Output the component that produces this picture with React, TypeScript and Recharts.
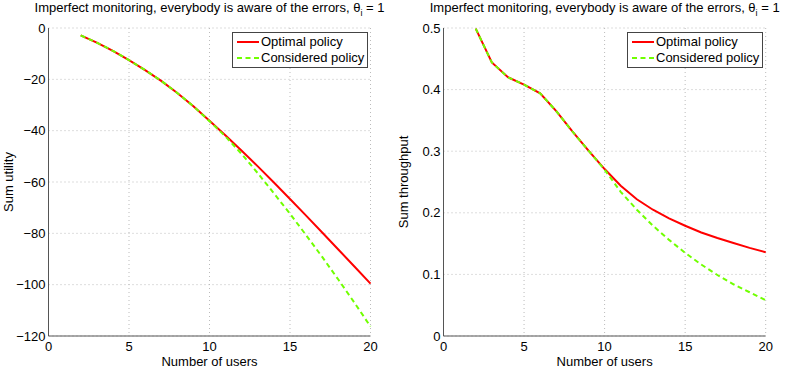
import { LineChart, Line, XAxis, YAxis, CartesianGrid } from "recharts";

const users = [2, 3, 4, 5, 6, 7, 8, 9, 10, 11, 12, 13, 14, 15, 16, 17, 18, 19, 20];

const utilityOptimal = [
  -2.9, -5.7, -8.9, -12.5, -16.4, -20.6, -25.3, -30.5, -36.1, -41.9, -47.8, -53.9, -60.2, -66.6,
  -73.1, -79.7, -86.3, -92.9, -99.6,
];
const utilityConsidered = [
  -2.9, -5.7, -8.9, -12.5, -16.4, -20.6, -25.3, -30.5, -36.3, -42.3, -49.1, -56.6, -64.4, -72.4,
  -80.7, -89.2, -98.0, -107.0, -116.3,
];

const throughputOptimal = [
  0.499, 0.444, 0.42, 0.408, 0.394, 0.365, 0.332, 0.301, 0.271, 0.244, 0.222, 0.205, 0.191, 0.179,
  0.168, 0.159, 0.151, 0.143, 0.136,
];
const throughputConsidered = [
  0.499, 0.444, 0.42, 0.408, 0.394, 0.365, 0.332, 0.301, 0.27, 0.234, 0.205, 0.179, 0.156, 0.135,
  0.116, 0.099, 0.084, 0.071, 0.058,
];

const xTicks = [0, 5, 10, 15, 20];
const utilityTicks = [-120, -100, -80, -60, -40, -20, 0];
const throughputTicks = [0, 0.1, 0.2, 0.3, 0.4, 0.5];

const seriesNames = ["Optimal policy", "Considered policy"];

const RED = "#ff0000";
const GREEN = "#70ff00";
const AXIS = "#555";
const FONT = "'Liberation Sans', Arial, sans-serif";

const utilityData = users.map((u, i) => ({
  users: u,
  optimal: utilityOptimal[i],
  considered: utilityConsidered[i],
}));

const throughputData = users.map((u, i) => ({
  users: u,
  optimal: throughputOptimal[i],
  considered: throughputConsidered[i],
}));

const fmtMinus = (v: number) => String(v).replace("-", "\u2212");

const LegendBox = ({ left }: { left: number }) => (
  <div
    style={{
      position: "absolute",
      left,
      top: 32,
      border: "1px solid #444",
      background: "#fff",
      fontFamily: FONT,
      fontSize: 13,
      color: "#000",
      padding: "1px 3px 1px 4px",
      lineHeight: "16px",
      whiteSpace: "nowrap",
    }}
  >
    {seriesNames.map((name, i) => (
      <div key={name} style={{ display: "flex", alignItems: "center" }}>
        <svg width={22} height={10} style={{ marginRight: 2 }}>
          <line
            x1={0}
            y1={5}
            x2={22}
            y2={5}
            stroke={i === 0 ? RED : GREEN}
            strokeWidth={2}
            strokeDasharray={i === 0 ? undefined : "5 3.5"}
          />
        </svg>
        <span>{name}</span>
      </div>
    ))}
  </div>
);

const Title = ({ center }: { center: number }) => (
  <div
    style={{
      position: "absolute",
      left: center,
      top: 0,
      transform: "translateX(-50%)",
      whiteSpace: "nowrap",
      fontFamily: FONT,
      fontSize: 13,
      lineHeight: "16px",
      color: "#000",
    }}
  >
    Imperfect monitoring, everybody is aware of the errors, θ
    <sub style={{ fontSize: 9, verticalAlign: -4 }}>i</sub> = 1
  </div>
);

const yLabel = (text: string, x: number) => (props: any) => {
  const vb = props.viewBox || {};
  const cy = (vb.y ?? 28) + (vb.height ?? 308) / 2;
  return (
    <text
      x={x}
      y={cy}
      transform={`rotate(-90 ${x} ${cy})`}
      textAnchor="middle"
      dominantBaseline="central"
      fontFamily={FONT}
      fontSize={13}
      fill="#000"
    >
      {text}
    </text>
  );
};

function Panel({
  data,
  yDomain,
  yTicks,
  yName,
  yFormat,
  marginRight,
  width,
}: {
  data: any[];
  yDomain: [number, number];
  yTicks: number[];
  yName: string;
  yFormat: (v: number) => string;
  marginRight: number;
  width: number;
}) {
  const tickStyle = { fontSize: 13, fill: "#000", fontFamily: FONT };
  return (
    <LineChart
      width={width}
      height={379}
      data={data}
      margin={{ top: 28, right: marginRight, left: 0, bottom: 0 }}
    >
      <CartesianGrid stroke="#bbb" strokeDasharray="1 3" />
      <XAxis
        dataKey="users"
        type="number"
        domain={[0, 20]}
        ticks={xTicks}
        height={43}
        tick={tickStyle}
        tickLine={false}
        tickSize={6}
        tickMargin={0}
        stroke={AXIS}
        interval={0}
        label={{
          value: "Number of users",
          position: "insideBottom",
          offset: 13,
          style: { fontSize: 13, fill: "#000", fontFamily: FONT },
        }}
      />
      <YAxis
        type="number"
        domain={yDomain}
        ticks={yTicks}
        width={48.5}
        tick={tickStyle}
        tickLine={false}
        tickSize={3}
        tickMargin={0}
        stroke={AXIS}
        interval={0}
        allowDataOverflow
        tickFormatter={yFormat}
        label={{ content: yLabel(yName, 8) }}
      />
      <Line
        dataKey="optimal"
        name={seriesNames[0]}
        stroke={RED}
        strokeWidth={2}
        dot={false}
        type="linear"
        isAnimationActive={false}
      />
      <Line
        dataKey="considered"
        name={seriesNames[1]}
        stroke={GREEN}
        strokeWidth={2}
        strokeDasharray="5 3.5"
        dot={false}
        type="linear"
        isAnimationActive={false}
      />
    </LineChart>
  );
}

export default function App() {
  return (
    <div
      style={{
        position: "absolute",
        left: 0,
        top: 0,
        width: 789,
        height: 379,
        background: "#fff",
        overflow: "hidden",
      }}
    >
      <div style={{ position: "absolute", left: 0, top: 0 }}>
        <Panel
          data={utilityData}
          yDomain={[-120, 0]}
          yTicks={utilityTicks}
          yName="Sum utility"
          yFormat={fmtMinus}
          marginRight={24.5}
          width={395}
        />
      </div>
      <div style={{ position: "absolute", left: 395, top: 0 }}>
        <Panel
          data={throughputData}
          yDomain={[0, 0.5]}
          yTicks={throughputTicks}
          yName="Sum throughput"
          yFormat={(v) => String(v)}
          marginRight={23.3}
          width={394}
        />
      </div>
      <Title center={209.5} />
      <Title center={604.7} />
      <LegendBox left={232} />
      <LegendBox left={627} />
    </div>
  );
}
